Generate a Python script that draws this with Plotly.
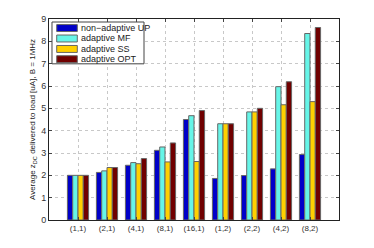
import plotly.graph_objects as go

categories = ["(1,1)", "(2,1)", "(4,1)", "(8,1)", "(16,1)", "(1,2)", "(2,2)", "(4,2)", "(8,2)"]
series_names = ["non\u2212adaptive UP", "adaptive MF", "adaptive SS", "adaptive OPT"]
up_vals = [2.0, 2.13, 2.45, 3.12, 4.50, 1.86, 1.99, 2.29, 2.93]
mf_vals = [2.0, 2.20, 2.57, 3.27, 4.67, 4.31, 4.84, 5.97, 8.35]
ss_vals = [2.0, 2.35, 2.52, 2.60, 2.62, 4.31, 4.84, 5.16, 5.30]
opt_vals = [2.0, 2.35, 2.75, 3.45, 4.90, 4.31, 5.00, 6.19, 8.62]
colors = ["#0000c8", "#66f5e8", "#ffd000", "#700000"]
y_ticks = [0, 1, 2, 3, 4, 5, 6, 7, 8, 9]

x_pos = list(range(1, len(categories) + 1))

fig = go.Figure()
for name, vals, c in zip(series_names, [up_vals, mf_vals, ss_vals, opt_vals], colors):
    fig.add_trace(go.Bar(x=x_pos, y=vals, name=name, showlegend=False,
                         marker=dict(color=c, line=dict(color="#666666", width=1))))

font = "Liberation Sans, Arial, sans-serif"

# custom compact legend (MATLAB style)
shapes = [dict(type="rect", xref="paper", yref="paper", x0=0.0103, x1=0.3276, y0=0.777, y1=0.985,
               fillcolor="white", line=dict(color="#444444", width=1), layer="above")]
annotations = []
row_y = [0.955, 0.903, 0.851, 0.800]
for name, c, ry in zip(series_names, colors, row_y):
    shapes.append(dict(type="rect", xref="paper", yref="paper", x0=0.0266, x1=0.0976,
                       y0=ry - 0.0173, y1=ry + 0.0173, fillcolor=c,
                       line=dict(color="#666666", width=1), layer="above"))
    annotations.append(dict(xref="paper", yref="paper", x=0.1040, y=ry, text=name,
                            showarrow=False, xanchor="left", yanchor="middle",
                            font=dict(family=font, size=9, color="#222222")))

fig.update_layout(
    width=374, height=248,
    margin=dict(l=49, r=35, t=19, b=28),
    paper_bgcolor="white", plot_bgcolor="white",
    barmode="group", bargap=0.27, bargroupgap=0.0,
    font=dict(family=font, size=9, color="#333333"),
    showlegend=False,
    shapes=shapes, annotations=annotations,
)
fig.update_xaxes(
    range=[0, 10], tickmode="array", tickvals=x_pos, ticktext=categories,
    showgrid=True, gridcolor="#c8c8c8", griddash="dot", gridwidth=1,
    showline=True, linecolor="#222222", linewidth=1, mirror="ticks",
    ticks="inside", ticklen=3, tickcolor="#444444", automargin=False,
    tickfont=dict(size=8, color="#333333"), zeroline=False,
)
fig.update_yaxes(
    range=[0, 9], tickmode="array", tickvals=y_ticks,
    showgrid=True, gridcolor="#c8c8c8", griddash="dot", gridwidth=1,
    showline=True, linecolor="#222222", linewidth=1, mirror="ticks",
    ticks="inside", ticklen=3, tickcolor="#444444", automargin=False,
    tickfont=dict(size=9, color="#333333"), zeroline=False,
    title=dict(text="Average z<sub>DC</sub> delivered to load [uA], B = 1MHz",
               font=dict(size=8, color="#222222"), standoff=4),
)
fig.write_html("out.html", config={"displayModeBar": False},
               post_script="document.body.style.margin='0';document.body.style.overflow='hidden';")
